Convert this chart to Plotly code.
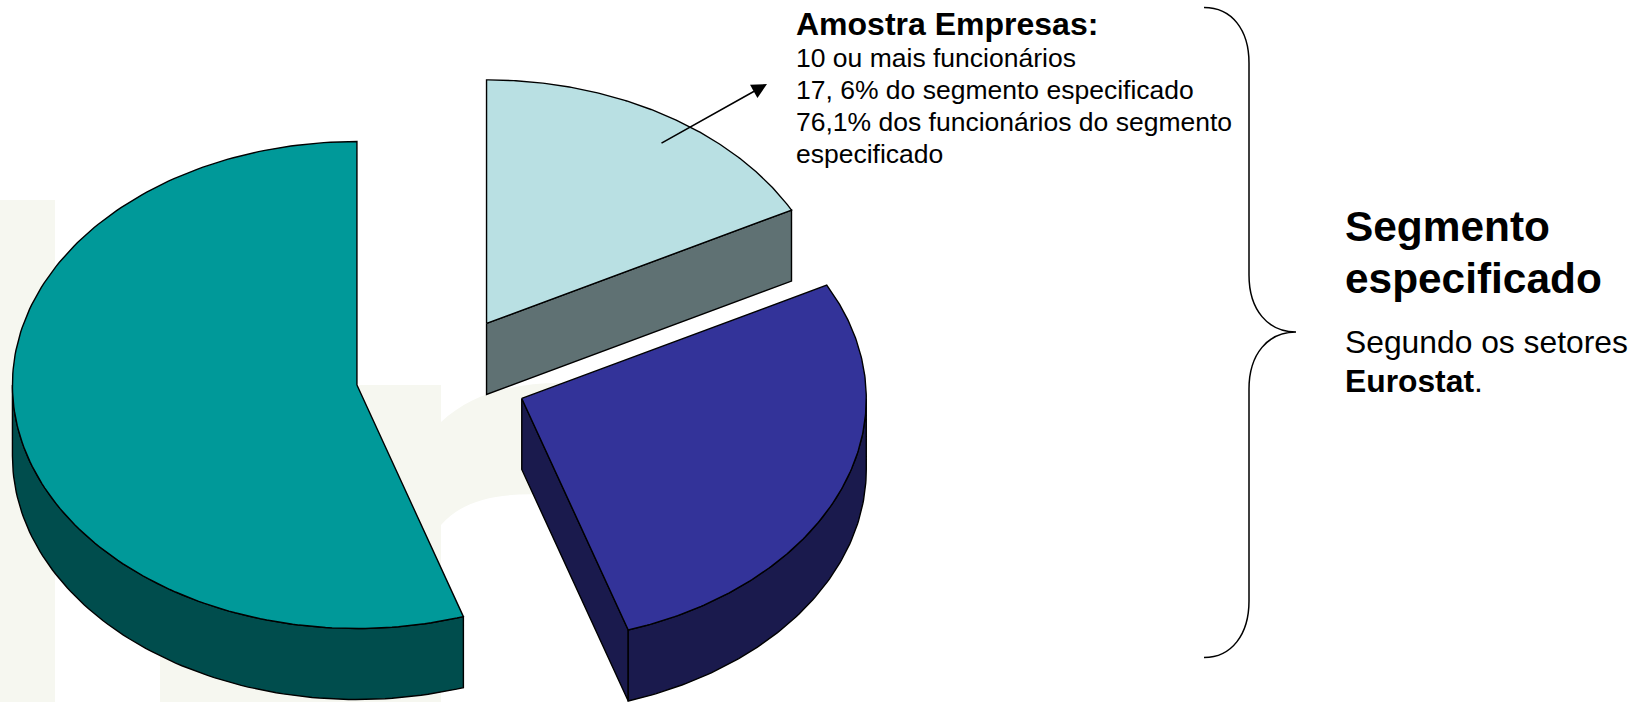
import numpy as np
import plotly.graph_objects as go

# Data
segments = ["Amostra Empresas", "Segmento 2", "Segmento 3"]
shares = [17.3, 27.7, 55.0]
top_colors = ["#B9E0E3", "#333399", "#009999"]
side_colors = ["#5F7173", "#1A1A4D", "#004D4D"]

title_lines = ["<b>Amostra Empresas:</b>"]
body_lines = ["10 ou mais funcionários", "17, 6% do segmento especificado",
              "76,1% dos funcionários do segmento", "especificado"]
side_title = ["<b>Segmento</b>", "<b>especificado</b>"]
side_body = ["Segundo os setores", "<b>Eurostat</b>."]

W, H = 1647, 702
CX, CY = 442.0, 375.5
RX, RY = 344.5, 243.5
DEPTH = 71
EXPLODE = 0.25
FONT = "Liberation Sans"
PALE = "#F6F7F0"


def ell(c, a):
    a = np.radians(a)
    return c[0] + RX * np.sin(a), c[1] - RY * np.cos(a)


def poly(fig, xs, ys, color):
    fig.add_trace(go.Scatter(x=list(xs), y=list(ys), mode="lines", fill="toself", fillcolor=color,
                             line=dict(color="#000000", width=1.4), hoverinfo="skip", showlegend=False))


fig = go.Figure()

edges = np.cumsum([0] + shares) * 3.6
slices = []
for i in range(len(shares)):
    a0, a1 = edges[i], edges[i + 1]
    mid = (a0 + a1) / 2
    c = (CX + EXPLODE * RX * np.sin(np.radians(mid)), CY - EXPLODE * RY * np.cos(np.radians(mid)))
    slices.append((a0, a1, c))

for i in [2, 0, 1]:
    a0, a1, c = slices[i]
    # radial cut wall on the slice's clockwise end when it faces the viewer
    if a1 < 180:
        px, py = ell(c, a1)
        poly(fig, [c[0], px, px, c[0], c[0]], [c[1], py, py + DEPTH, c[1] + DEPTH, c[1]], side_colors[i])
    # outer wall
    w0, w1 = max(a0, 90), min(a1, 270)
    if w1 > w0:
        t = np.linspace(w0, w1, 90)
        x, y = ell(c, t)
        poly(fig, np.r_[x, x[::-1], x[0]], np.r_[y, y[::-1] + DEPTH, y[0]], side_colors[i])
    # top face
    t = np.linspace(a0, a1, 180)
    x, y = ell(c, t)
    poly(fig, np.r_[c[0], x, c[0]], np.r_[c[1], y, c[1]], top_colors[i])

shapes = [
    dict(type="rect", x0=0, x1=55, y0=200, y1=H, fillcolor=PALE, line_width=0, layer="below"),
    dict(type="path", layer="below", fillcolor=PALE, line_width=0,
         path="M 160 385 L 441 385 L 441 422 C 470 395 510 383 560 383 L 640 383 L 640 505 "
              "C 560 495 480 480 441 525 L 441 702 L 160 702 Z"),
    dict(type="path", line=dict(color="#000000", width=1.5),
         path="M 1204 7.5 C 1232 7.5 1249 30 1249 63 L 1249 275 C 1249 310 1268 332 1296 332 "
              "C 1268 332 1249 354 1249 389 L 1249 601 C 1249 634 1232 657.5 1204 657.5"),
]

annotations = [dict(x=767, y=84, ax=660, ay=144, xref="x", yref="y", axref="x", ayref="y", text="",
                    showarrow=True, arrowhead=2, arrowsize=1.9, arrowwidth=1.6, arrowcolor="#000000")]


def label(x, y, text, size):
    annotations.append(dict(x=x, y=y, xref="x", yref="y", text=text, showarrow=False, xanchor="left",
                            yanchor="middle", align="left", font=dict(family=FONT, size=size, color="#000000")))


for text in title_lines:
    label(794, 24, text, 32)
for k, text in enumerate(body_lines):
    label(794, 57.5 + k * 32.2, text, 26.5)
for k, text in enumerate(side_title):
    label(1343, 226 + k * 52, text, 42.4)
for k, text in enumerate(side_body):
    label(1343, 342 + k * 39, text, 31.8)

fig.update_layout(width=W, height=H, margin=dict(l=0, r=0, t=0, b=0), paper_bgcolor="white",
                  plot_bgcolor="white", shapes=shapes, annotations=annotations, showlegend=False,
                  xaxis=dict(range=[0, W], visible=False, fixedrange=True),
                  yaxis=dict(range=[H, 0], visible=False, fixedrange=True))
fig.write_html("out.html", config={"displayModeBar": False},
               default_width=f"{W}px", default_height=f"{H}px",
               post_script="document.body.style.margin='0';document.body.style.overflow='hidden';")
